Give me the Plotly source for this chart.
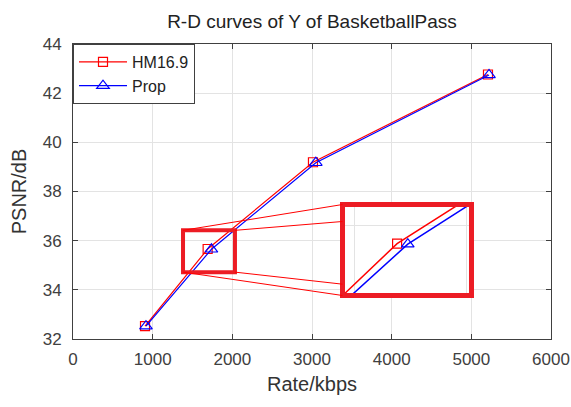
import plotly.graph_objects as go

# ---- data ----
rate_hm = [904, 1690, 3012, 5209]
psnr_hm = [32.52, 35.66, 39.19, 42.76]
rate_prop = [916, 1738, 3048, 5222]
psnr_prop = [32.52, 35.65, 39.17, 42.74]
series_names = ["HM16.9", "Prop"]

x_ticks = [0, 1000, 2000, 3000, 4000, 5000, 6000]
y_ticks = [32, 34, 36, 38, 40, 42, 44]

# zoom region (main axes coords) and inset placement
zoom_x = [1381, 2033]
zoom_y = [34.72, 36.42]
inset_box_x = [3383, 5002]
inset_box_y = [33.77, 37.47]
inset_range_x = [1456, 2013]
inset_range_y = [34.73, 36.35]

RED = "#ff0000"
BLUE = "#0000ff"
BOXRED = "#ec1c24"
FONT = "Liberation Sans, Arial, sans-serif"

fig = go.Figure()

def add_series(xa, ya, show, lw):
    fig.add_trace(go.Scatter(
        x=rate_hm, y=psnr_hm, name=series_names[0], mode="lines+markers",
        line=dict(color=RED, width=lw),
        marker=dict(symbol="square-open", size=9, color=RED, line=dict(width=1.2, color=RED)),
        xaxis=xa, yaxis=ya, showlegend=show))
    fig.add_trace(go.Scatter(
        x=rate_prop, y=psnr_prop, name=series_names[1], mode="lines+markers",
        line=dict(color=BLUE, width=lw),
        marker=dict(symbol="triangle-up-open", size=11, color=BLUE, line=dict(width=1.2, color=BLUE)),
        xaxis=xa, yaxis=ya, showlegend=show))

add_series("x", "y", True, 1.2)
add_series("x2", "y2", False, 1.5)

W, H = 571, 407
ml, mr, mt, mb = 73, 20, 44, 68
pw, ph = W - ml - mr, H - mt - mb

def frac_x(v):
    return (v - 0) / 6000.0

def frac_y(v):
    return (v - 32) / 12.0

# inset domain: inside the thick red border
bw = 2.5 / pw
bh = 2.5 / ph
dx0 = frac_x(inset_box_x[0]) + bw
dx1 = frac_x(inset_box_x[1]) - bw
dy0 = frac_y(inset_box_y[0]) + bh
dy1 = frac_y(inset_box_y[1]) - bh

axis_common = dict(
    showline=True, linecolor="#404040", linewidth=1, mirror="ticks",
    ticks="inside", ticklen=5, tickcolor="#404040", tickwidth=1,
    showgrid=True, gridcolor="#e3e3e3", gridwidth=1, zeroline=False,
    tickfont=dict(family=FONT, size=17, color="#404040"),
    automargin=False,
)

fig.update_layout(
    width=W, height=H,
    margin=dict(l=ml, r=mr, t=mt, b=mb, autoexpand=False),
    paper_bgcolor="white", plot_bgcolor="white",
    font=dict(family=FONT, color="#333333"),
    title=dict(text="R-D curves of Y of BasketballPass", x=0.5, xref="paper", xanchor="center",
               y=1 - 21 / H, yref="container", yanchor="middle",
               font=dict(family=FONT, size=19, color="#222222"), automargin=False),
    xaxis=dict(range=[0, 6000], tickvals=x_ticks, ticklabelstandoff=5,
               title=dict(text="Rate/kbps", font=dict(family=FONT, size=20, color="#333333"), standoff=8),
               **axis_common),
    yaxis=dict(range=[32, 44], tickvals=y_ticks, ticklabelstandoff=7,
               title=dict(text="PSNR/dB", font=dict(family=FONT, size=20, color="#333333"), standoff=10),
               **axis_common),
    xaxis2=dict(domain=[dx0, dx1], range=inset_range_x, anchor="y2", dtick=500,
                showgrid=True, gridcolor="#e3e3e3", zeroline=False, showline=False,
                showticklabels=False, ticks="", automargin=False),
    yaxis2=dict(domain=[dy0, dy1], range=inset_range_y, anchor="x2", dtick=2,
                showgrid=True, gridcolor="#e3e3e3", zeroline=False, showline=False,
                showticklabels=False, ticks="", automargin=False),
    legend=dict(x=0, y=1, xanchor="left", yanchor="top", bgcolor="white",
                bordercolor="#404040", borderwidth=1,
                font=dict(family=FONT, size=16, color="#222222"),
                tracegroupgap=0, itemwidth=48),
    showlegend=True,
)

# zoom rectangle, inset border, connector lines
fig.add_shape(type="rect", xref="x", yref="y", x0=zoom_x[0], x1=zoom_x[1], y0=zoom_y[0], y1=zoom_y[1],
              line=dict(color=BOXRED, width=4), layer="above")
fig.add_shape(type="rect", xref="x", yref="y", x0=inset_box_x[0], x1=inset_box_x[1],
              y0=inset_box_y[0], y1=inset_box_y[1], line=dict(color=BOXRED, width=5), layer="above")

conn_targets = [36.78, 34.23]
connectors = [
    (zoom_x[0], zoom_y[1], inset_box_x[0], inset_box_y[1]),
    (zoom_x[1], zoom_y[1], inset_box_x[0], conn_targets[0]),
    (zoom_x[1], zoom_y[0], inset_box_x[0], conn_targets[1]),
    (zoom_x[0], zoom_y[0], inset_box_x[0], inset_box_y[0]),
]
for x0, y0, x1, y1 in connectors:
    fig.add_shape(type="line", xref="x", yref="y", x0=x0, y0=y0, x1=x1, y1=y1,
                  line=dict(color=RED, width=1), layer="above")

# remove the default 8px page margin so the figure fills the window exactly
fig.write_html("out.html", config={"displayModeBar": False, "staticPlot": True},
               post_script="document.body.style.margin='0px';document.body.style.overflow='hidden';")
